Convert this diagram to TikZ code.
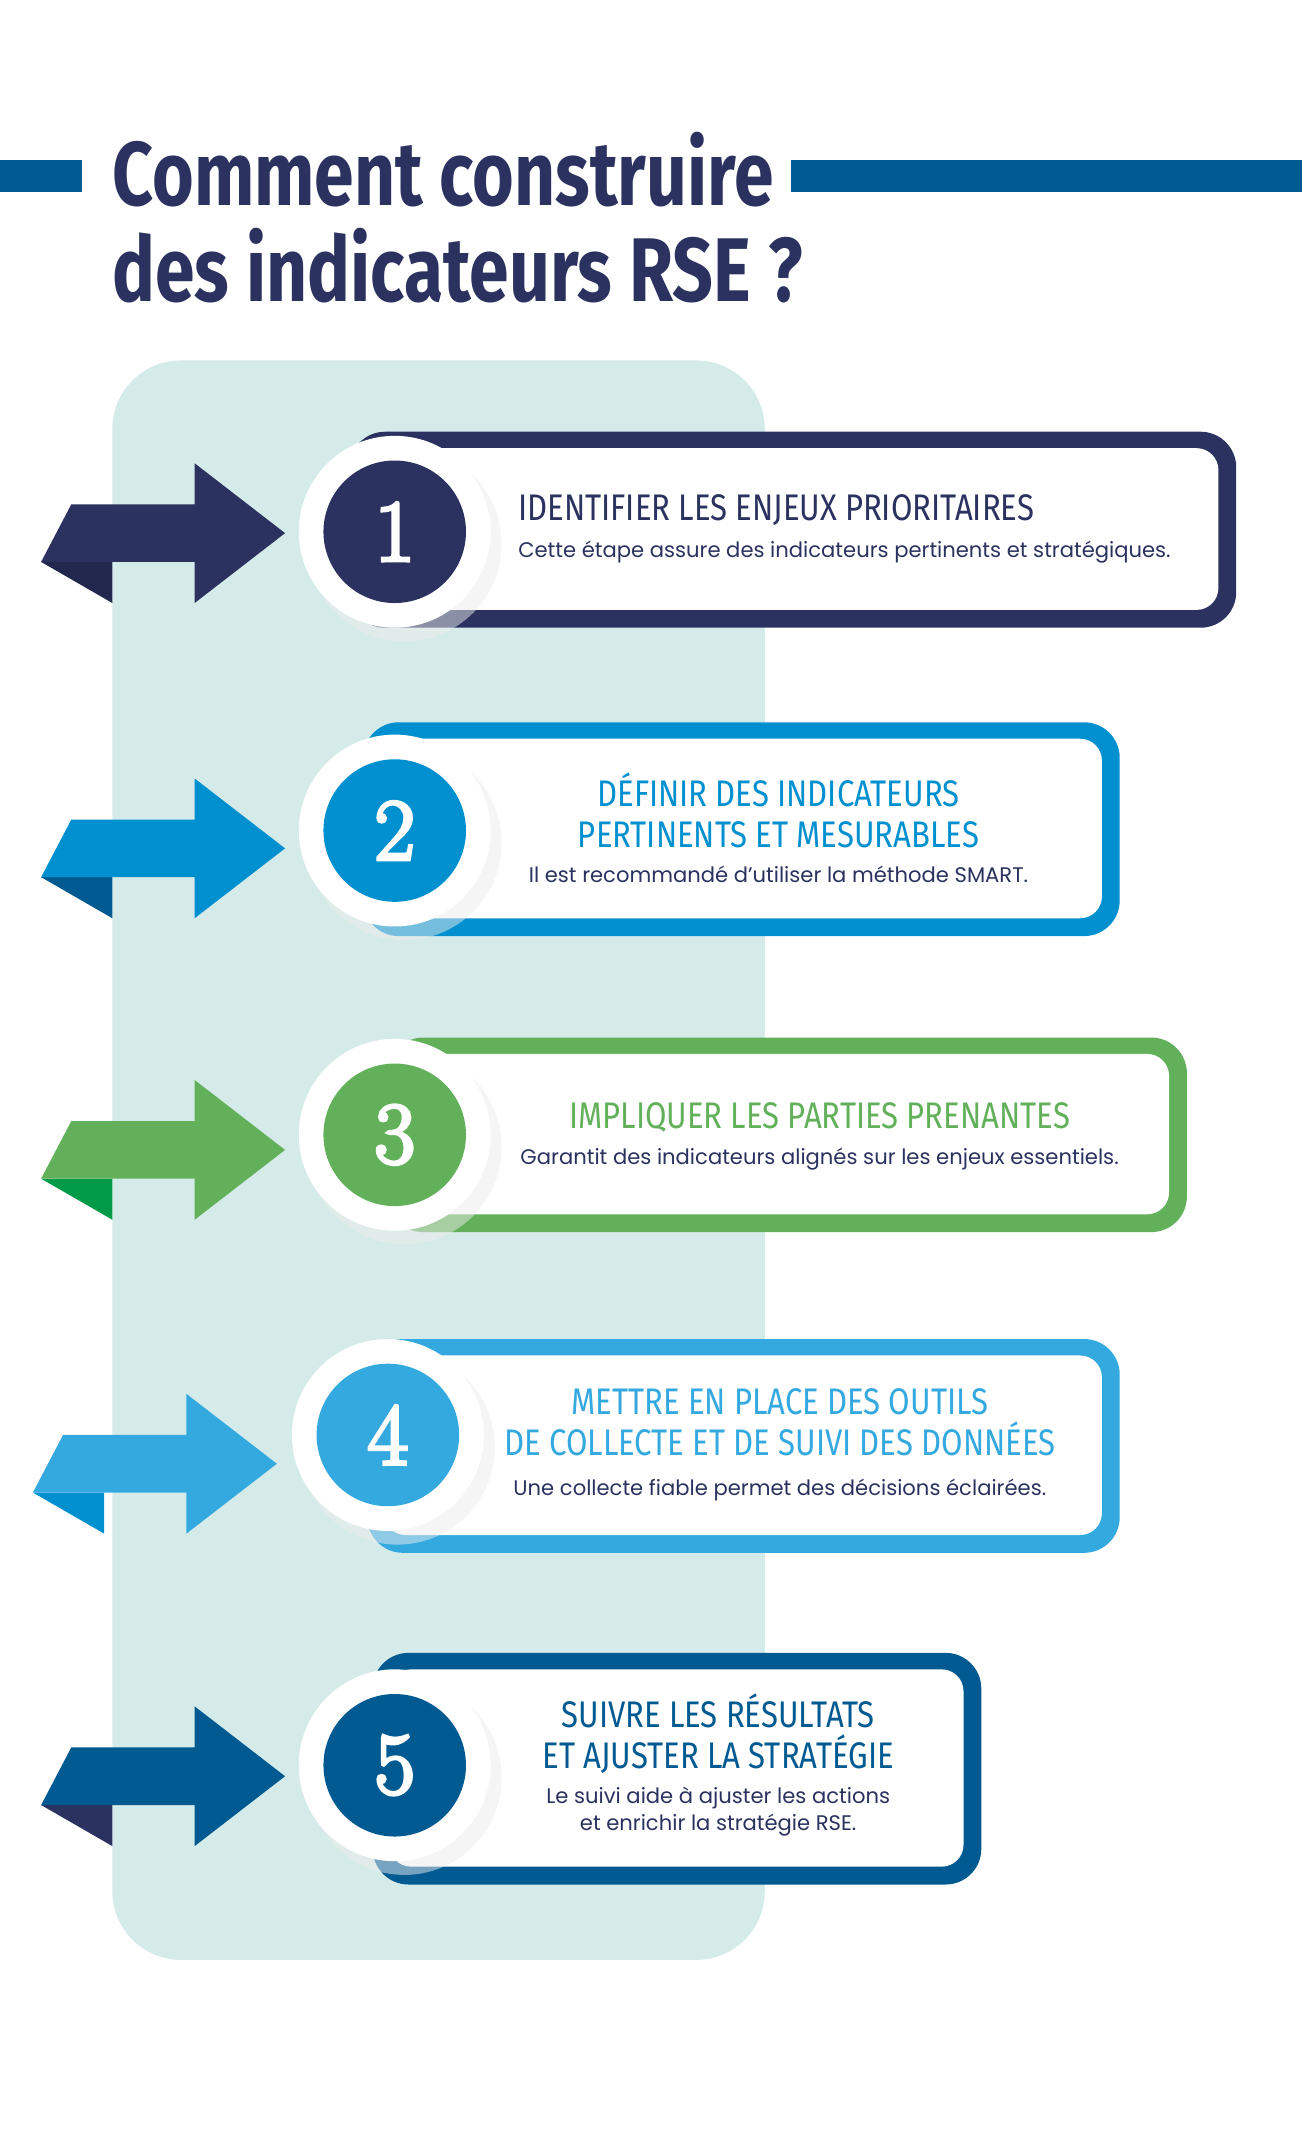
\documentclass[tikz,border=0pt]{standalone}
\usepackage{fontspec}
\setmainfont{Poppins}
\newfontfamily\titlefont{Fira Sans}
\newfontfamily\numfont[FakeBold=4]{Latin Modern Roman}
\usetikzlibrary{positioning}
\definecolor{navy}{HTML}{2B3260}
\definecolor{blueA}{HTML}{0090D0}
\definecolor{greenA}{HTML}{62B15A}
\definecolor{greenD}{HTML}{009A49}
\definecolor{blueL}{HTML}{33A9E0}
\definecolor{blueD}{HTML}{005A92}
\definecolor{panel}{HTML}{D5EBE9}
\tikzset{
 ttl/.style={font=\titlefont\fontsize{27}{30}\selectfont, xscale=0.84, align=center, inner sep=0pt},
 body/.style={font=\fontsize{15.4}{20}\selectfont, text=navy, align=center, inner sep=0pt},
 num/.style={font=\numfont\fontsize{64}{64}\selectfont, text=white, inner sep=0pt}
}
\newcommand{\stepitem}[9]{%
 \fill[#2] (30+#4,#3-9+0) -- (82+#4,#3-9) -- (82+#4,#3+21) -- cycle;
 \fill[#1] (52+#4,#3-51) -- (142+#4,#3-51) -- (142+#4,#3-81) -- (208+#4,#3-30) -- (142+#4,#3+21) -- (142+#4,#3-9) -- (30+#4,#3-9) -- cycle;
 \fill[#1, rounded corners=26pt] (#7,#8) rectangle (#9,\boxyb);
 \fill[white, rounded corners=16pt] (#7+12,#8+12) rectangle (#9-13,\boxyb-13);
 \fill[gray!15, opacity=0.5] (#5+7,#6+9) circle (71);
 \fill[white] (#5,#6) circle (70);
 \fill[#1] (#5,#6) circle (52);
}
\begin{document}
\begin{tikzpicture}[x=1pt,y=-1pt]
\useasboundingbox (0,0) rectangle (950,1568);
\fill[white] (0,0) rectangle (950,1568);
\fill[blueD] (0,117) rectangle (60,140);
\fill[blueD] (577,117) rectangle (950,140);
\node[anchor=base west, inner sep=0pt, text=navy, font=\titlefont\fontsize{66}{66}\selectfont\bfseries, xscale=0.79] (t1) at (82,150) {Comment construire};
\node[anchor=base west, inner sep=0pt, text=navy, font=\titlefont\fontsize{66}{66}\selectfont\bfseries, xscale=0.79] (t2) at (82,220) {des indicateurs RSE ?};
\fill[panel, rounded corners=50pt] (82,263) rectangle (558,1430);
% step 1
\def\boxyb{458}
\stepitem{navy}{navy!80!black}{419}{0}{288}{388}{255}{315}{902}
\node[num] (n1) at (288,388) {1};
\node[ttl, text=navy, anchor=west] (h1) at (378,372) {IDENTIFIER LES ENJEUX PRIORITAIRES};
\node[body, anchor=west] (b1) at (378,403) {Cette étape assure des indicateurs pertinents et stratégiques.};
% step 2
\def\boxyb{683}
\stepitem{blueA}{blueD}{649}{0}{288}{606}{265}{527}{817}
\node[num] (n2) at (288,606) {2};
\node[ttl, text=blueA] (h2) at (568,591) {DÉFINIR DES INDICATEURS\\PERTINENTS ET MESURABLES};
\node[body] (b2) at (568,638) {Il est recommandé d’utiliser la méthode SMART.};
% step 3
\def\boxyb{899}
\stepitem{greenA}{greenD}{869}{0}{288}{828}{283}{757}{866}
\node[num] (n3) at (288,828) {3};
\node[ttl, text=greenA] (h3) at (598,815) {IMPLIQUER LES PARTIES PRENANTES};
\node[body] (b3) at (598,846) {Garantit des indicateurs alignés sur les enjeux essentiels.};
% step 4
\def\boxyb{1133}
\stepitem{blueL}{blueA}{1098}{-6}{283}{1047}{268}{977}{817}
\node[num] (n4) at (283,1047) {4};
\node[ttl, text=blueL] (h4) at (569,1038) {METTRE EN PLACE DES OUTILS\\DE COLLECTE ET DE SUIVI DES DONNÉES};
\node[body] (b4) at (569,1087) {Une collecte fiable permet des décisions éclairées.};
% step 5
\def\boxyb{1375}
\stepitem{blueD}{navy}{1326}{0}{288}{1288}{272}{1206}{716}
\node[num] (n5) at (288,1288) {5};
\node[ttl, text=blueD] (h5) at (524,1265) {SUIVRE LES RÉSULTATS\\ET AJUSTER LA STRATÉGIE};
\node[body] (b5) at (524,1322) {Le suivi aide à ajuster les actions\\et enrichir la stratégie RSE.};
\end{tikzpicture}
\end{document}
